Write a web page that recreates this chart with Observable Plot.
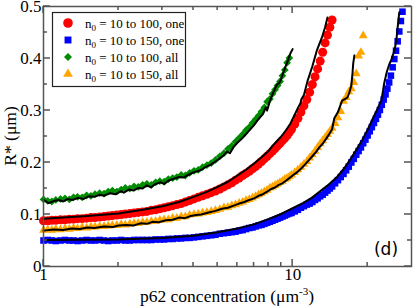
<!DOCTYPE html>
<html><head><meta charset="utf-8">
<script src="https://cdn.jsdelivr.net/npm/d3@7"></script>
<script src="https://cdn.jsdelivr.net/npm/@observablehq/plot@0.6"></script>
<style>body{margin:0;background:#fff}</style>
</head><body><div id="chart"></div>
<script>
// shared concentration grid (µm^-3)
const conc = [1.00,1.04,1.08,1.12,1.17,1.22,1.27,1.32,1.37,1.43,1.49,1.55,1.61,1.68,1.75,1.82,1.89,1.97,2.05,2.13,2.22,2.31,2.40,2.50,2.60,2.71,2.82,2.93,3.05,3.17,3.30,3.43,3.57,3.71,3.86,4.02,4.18,4.35,4.53,4.71,4.90,
5.1,5.3,5.5,5.7,5.9,6.1,6.3,6.5,6.7,6.9,7.1,7.3,7.5,7.7,7.9,8.1,8.3,8.5,8.7,8.9,9.1,9.3,9.5,9.7,9.9,
10.2,10.5,10.8,11.1,11.4,11.7,12.0,12.3,12.6,12.9,13.2,13.5,13.8,14.1,14.4,
14.8,15.2,15.6,16.0,16.4,16.8,17.2,17.6,18.0,18.4,18.8,19.2,
19.6,20.0,20.4,20.8,21.2,21.6,22.0,22.4,22.8,23.2,23.6,24.0,24.4,24.8,25.2,25.6,26.0,26.4,26.8,27.2,27.6];

// n0 = 10 to 100, one (red circles)
const redOne = [.088,.088,.089,.089,.090,.090,.091,.091,.092,.092,.093,.094,.094,.095,.096,.097,.098,.099,.100,.101,
.102,.103,.104,.105,.106,.108,.109,.111,.113,.115,.117,.119,.121,.124,.127,.130,.133,.136,.139,.142,.145,
.149,.153,.157,.161,.166,.170,.175,.179,.183,.188,.192,.197,.202,.207,.212,.217,.222,.227,.232,.237,.242,.247,.252,.258,.264,
.274,.285,.297,.309,.321,.335,.350,.365,.380,.395,.412,.430,.445,.460,.474];

// n0 = 10 to 150, one (blue squares)
const blueOne = [.050,.051,.050,.049,.050,.051,.050,.050,.049,.050,.051,.050,.050,.051,.050,.049,.050,.050,.051,.050,.050,
.051,.051,.051,.051,.051,.052,.052,.052,.053,.053,.054,.054,.055,.055,.056,.057,.058,.059,.060,.061,
.063,.064,.065,.066,.067,.069,.070,.072,.074,.075,.077,.079,.080,.082,.084,.086,.088,.090,.092,.094,.096,.098,.100,.102,.103,
.106,.109,.113,.116,.119,.121,.124,.128,.131,.135,.138,.142,.146,.150,.154,
.160,.166,.172,.178,.185,.192,.200,.207,.215,.222,.229,.237,
.244,.252,.260,.268,.276,.284,.292,.301,.311,.321,.331,.342,.354,.367,.383,.399,.415,.433,.452,.472,.490];

// n0 = 10 to 100, all (green diamonds)
const greenAll = [.129,.126,.125,.128,.130,.131,.129,.133,.134,.133,.137,.136,.139,.141,.140,.144,.146,.144,.148,.151,
.150,.154,.153,.157,.159,.157,.162,.164,.163,.168,.170,.172,.176,.175,.180,.184,.186,.191,.195,.199,.205,
.212,.218,.226,.232,.240,.247,.254,.262,.268,.276,.283,.290,.298,.306,.317,.322,.332,.340,.348,.356,.367,.378,.392,.401];

// n0 = 10 to 150, all (orange triangles)
const orangeAll = [.070,.071,.070,.072,.071,.073,.072,.074,.073,.075,.074,.076,.076,.077,.077,.078,.079,.079,.081,.080,
.082,.083,.083,.085,.085,.087,.087,.089,.090,.090,.093,.093,.096,.096,.099,.100,.101,.103,.104,.106,.108,
.110,.113,.114,.117,.119,.122,.124,.127,.129,.132,.135,.138,.141,.144,.147,.151,.153,.156,.159,.162,.164,.168,.170,.173,.176,
.181,.186,.191,.197,.202,.209,.215,.222,.229,.236,.242,.248,.254,.260,.266,
.275,.286,.298,.318,.325,.336,.342,.354,.371,.405,.412,.444];

// black curves
const redLineX = [1,1.5,2,2.5,3,3.5,4,4.5,5,5.5,6,6.5,7,7.5,8,8.3,8.6,9.0,9.4,9.8,10.1,10.5,10.75,10.85,11.1,11.5,12.0,12.5,13.1,13.5,13.8];
const redLineY = [.092,.097,.102,.109,.116,.124,.134,.143,.153,.163,.175,.186,.198,.210,.222,.232,.240,.250,.262,.275,.288,.305,.314,.322,.330,.358,.385,.415,.440,.460,.479];
const blueLineX = [1,2,3,4,5,6,7,8,9,10,11,12,13,14,15,16,17,18,19,20,21.0,22.0,22.7,23.0,23.3,23.9,24.4,24.9,25.4,25.7,26.1,26.4,26.8];
const blueLineY = [.051,.052,.055,.059,.066,.073,.081,.091,.101,.112,.122,.133,.146,.158,.171,.187,.205,.224,.243,.263,.285,.305,.319,.335,.352,.375,.388,.398,.410,.418,.437,.460,.489];
const greenLineX = [1.00,1.05,1.10,1.15,1.2,1.25,1.3,1.38,1.45,1.52,1.6,1.68,1.75,1.85,1.95,2.05,2.1,2.2,2.3,2.4,2.5,2.6,2.7,2.8,2.95,3.05,3.2,3.35,3.5,3.65,3.8,4.0,4.15,4.3,4.5,4.7,4.9,5.1,5.3,5.45,5.6,5.8,6.0,6.2,6.4,6.6,6.8,7.0,7.2,7.4,7.6,7.8,7.9,8.1,8.3,8.5,8.65,8.8,8.95,9.2,9.5,9.8,10.0];
const greenLineY = [.128,.122,.126,.128,.125,.130,.128,.132,.130,.135,.134,.138,.136,.141,.139,.145,.142,.148,.146,.151,.150,.156,.152,.158,.162,.159,.166,.169,.172,.171,.176,.181,.183,.186,.192,.196,.202,.208,.214,.221,.218,.230,.238,.244,.251,.258,.265,.272,.280,.287,.293,.306,.300,.318,.331,.342,.350,.352,.358,.375,.392,.410,.418];
const orangeLineX = [1.0,1.1,1.2,1.3,1.4,1.5,1.6,1.75,1.9,2.0,2.15,2.3,2.45,2.6,2.75,2.9,3.1,3.3,3.5,3.7,3.9,4.1,4.3,4.6,4.9,5.2,5.5,5.8,6.1,6.4,6.7,7.0,7.3,7.6,7.9,8.2,8.5,8.8,9.1,9.4,9.7,10.0,10.4,10.8,11.2,11.6,12.0,12.4,12.8,13.2,13.6,14.0,14.4,14.7,15.2,15.8,16.2,16.6,16.9,17.2,17.4,17.5,17.7];
const orangeLineY = [.069,.071,.070,.073,.072,.075,.074,.077,.076,.079,.080,.079,.083,.082,.086,.085,.089,.090,.094,.093,.097,.099,.100,.104,.107,.111,.113,.117,.121,.124,.128,.131,.136,.139,.144,.149,.152,.157,.160,.165,.170,.175,.181,.188,.196,.204,.212,.220,.229,.236,.245,.254,.264,.285,.297,.319,.322,.325,.335,.348,.373,.390,.406];

const seriesLabels = ["= 10 to 100, one", "= 10 to 150, one", "= 10 to 100, all", "= 10 to 150, all"];
const seriesColors = ["#ff0000", "#0000ff", "#008b00", "#ffa500"];
const yMajor = [0, 0.1, 0.2, 0.3, 0.4, 0.5];
const yMinor = [0.05, 0.15, 0.25, 0.35, 0.45];
const xMajor = [1, 10];
const xMinor = [2, 3, 4, 5, 6, 7, 8, 9, 20];
const xTitle = ["p62 concentration (μm", "-3", ")"];
const yTitle = "R* (μm)";
const panelTag = "(d)";

const SERIF = "Liberation Serif, Times New Roman, serif";
const pts = ys => ys.map((y, i) => ({x: conc[i], y}));
const line = (xs, ys) => xs.map((x, i) => ({x, y: ys[i]}));

const chart = Plot.plot({
  width: 415, height: 308,
  marginLeft: 43, marginRight: 4, marginTop: 6, marginBottom: 42,
  x: {type: "log", domain: [1, 30]},
  y: {domain: [0, 0.5]},
  style: {background: "white", fontFamily: SERIF, fontSize: "17px", color: "black"},
  marks: [
    Plot.axisX({anchor: "bottom", ticks: xMajor, tickSize: 0, tickPadding: 1, tickFormat: d => String(d), label: null, fontSize: 17}),
    Plot.axisY({anchor: "left", ticks: yMajor, tickSize: 0, tickPadding: 2, tickFormat: d => d === 0 ? "0" : d.toFixed(1), label: null, fontSize: 17}),
    Plot.dot(pts(redOne), {x: "x", y: "y", r: 4.5, symbol: "circle", fill: seriesColors[0]}),
    Plot.dot(pts(blueOne), {x: "x", y: "y", r: 3.7, symbol: "square", fill: seriesColors[1]}),
    Plot.dot(pts(greenAll), {x: "x", y: "y", r: 3.5, symbol: "diamond2", fill: seriesColors[2]}),
    Plot.dot(pts(orangeAll), {x: "x", y: "y", r: 3.3, symbol: "triangle", fill: seriesColors[3]}),
    Plot.line(line(redLineX, redLineY), {x: "x", y: "y", stroke: "black", strokeWidth: 2}),
    Plot.line(line(blueLineX, blueLineY), {x: "x", y: "y", stroke: "black", strokeWidth: 2}),
    Plot.line(line(greenLineX, greenLineY), {x: "x", y: "y", stroke: "black", strokeWidth: 2}),
    Plot.line(line(orangeLineX, orangeLineY), {x: "x", y: "y", stroke: "black", strokeWidth: 2}),
    Plot.frame({stroke: "#555", strokeWidth: 1.5})
  ]
});
document.getElementById("chart").appendChild(chart);

const svg = d3.select(chart);
const sx = chart.scale("x"), sy = chart.scale("y");
const X0 = sx.range[0], X1 = sx.range[1], Y0 = sy.range[0], Y1 = sy.range[1];
const tg = svg.append("g").attr("stroke", "#555").attr("stroke-width", 1.5);
const addX = (v, len) => {
  const px = sx.apply(v);
  tg.append("line").attr("x1", px).attr("x2", px).attr("y1", Y0).attr("y2", Y0 - len);
  tg.append("line").attr("x1", px).attr("x2", px).attr("y1", Y1).attr("y2", Y1 + len);
};
const addY = (v, len) => {
  const py = sy.apply(v);
  tg.append("line").attr("y1", py).attr("y2", py).attr("x1", X0).attr("x2", X0 + len);
  tg.append("line").attr("y1", py).attr("y2", py).attr("x1", X1).attr("x2", X1 - len);
};
xMajor.forEach(v => addX(v, 7));
xMinor.forEach(v => addX(v, 4));
yMajor.forEach(v => addY(v, 7));
yMinor.forEach(v => addY(v, 4));

// axis titles
const xt = svg.append("text").attr("x", (X0 + X1) / 2).attr("y", 302).attr("text-anchor", "middle")
  .attr("font-family", SERIF).attr("font-size", 17.5).attr("fill", "black");
xt.append("tspan").text(xTitle[0]);
xt.append("tspan").attr("dy", -7).attr("font-size", 11).text(xTitle[1]);
xt.append("tspan").attr("dy", 7).text(xTitle[2]);
svg.append("text").attr("transform", `translate(16,${(Y0 + Y1) / 2}) rotate(-90)`).attr("text-anchor", "middle")
  .attr("font-family", SERIF).attr("font-size", 17.5).attr("fill", "black").text(yTitle);

// panel tag
svg.append("text").attr("x", 386).attr("y", 254.5).attr("text-anchor", "middle")
  .attr("font-family", "DejaVu Sans, sans-serif").attr("font-size", 17).attr("fill", "black").text(panelTag);

// legend
const lg = svg.append("g");
lg.append("rect").attr("x", 52.5).attr("y", 12.5).attr("width", 133).attr("height", 74)
  .attr("fill", "white").attr("stroke", "#222").attr("stroke-width", 1.2);
const legSym = [[d3.symbolCircle, 4.8], [d3.symbolSquare, 3.9], [d3.symbolDiamond2, 3.6], [d3.symbolTriangle, 3.6]];
seriesLabels.forEach((lab, i) => {
  const cy = 23 + i * 17;
  lg.append("path").attr("transform", `translate(68,${cy})`)
    .attr("d", d3.symbol().type(legSym[i][0]).size(Math.PI * legSym[i][1] ** 2)())
    .attr("fill", seriesColors[i]);
  const t = lg.append("text").attr("x", 85).attr("y", cy + 4.5).attr("text-anchor", "start")
    .attr("font-family", SERIF).attr("font-size", 13).attr("fill", "black");
  t.append("tspan").text("n");
  t.append("tspan").attr("dy", 3).attr("font-size", 9).text("0");
  t.append("tspan").attr("dy", -3).text(" " + lab);
});
</script></body></html>
